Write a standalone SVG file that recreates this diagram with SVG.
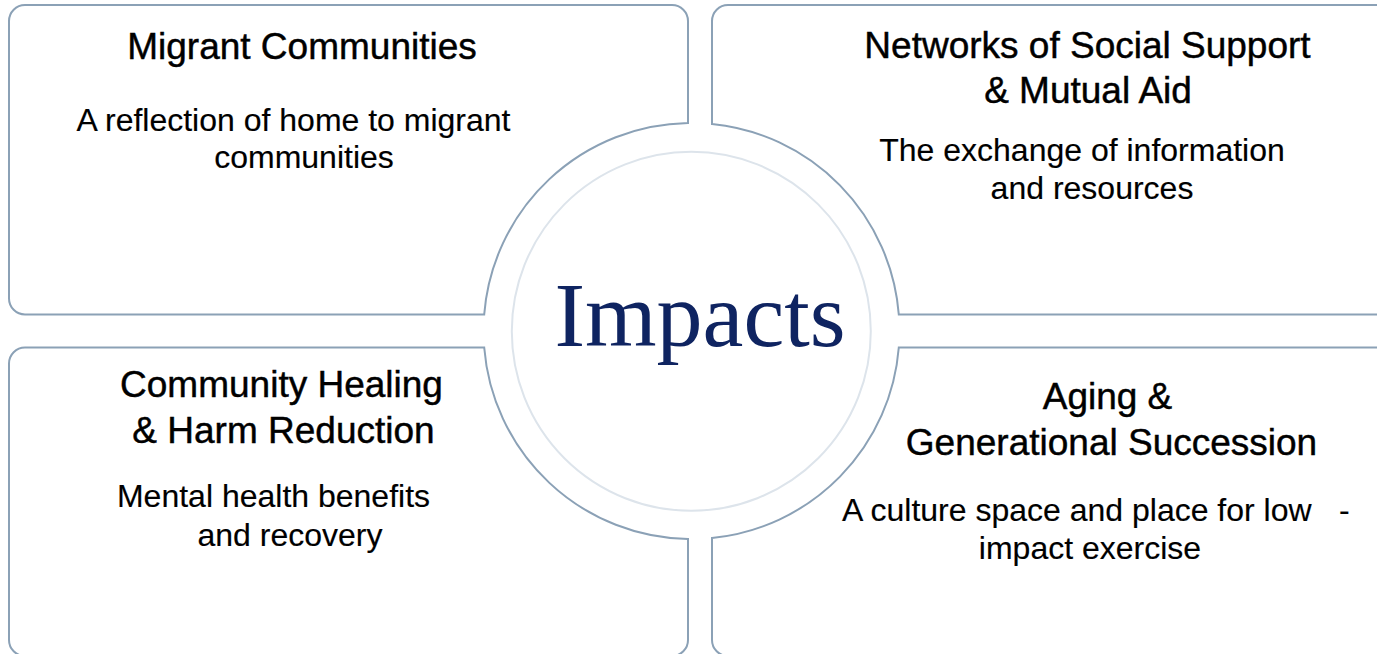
<svg xmlns="http://www.w3.org/2000/svg" width="1377" height="654" viewBox="0 0 1377 654">
  <style>
    .box { fill: #FFFFFF; stroke: #8BA1B6; stroke-width: 2; }
    .ring { fill: none; stroke: #DDE4EB; stroke-width: 2; }
    .title { font-family: "Liberation Sans", Arial, sans-serif; font-size: 37px; fill: #000000; stroke: #000000; stroke-width: 0.45; text-anchor: middle; }
    .body { font-family: "Liberation Sans", Arial, sans-serif; font-size: 32px; fill: #000000; stroke: #000000; stroke-width: 0.15; text-anchor: middle; }
    .center { font-family: "Liberation Serif", "Times New Roman", serif; font-size: 92px; fill: #0F2461; text-anchor: middle; }
  </style>
  <rect width="1377" height="654" fill="#FFFFFF"/>
  <g id="node-migrant">
    <path class="box" d="M25,5 H672 A16,16 0 0 1 688,21 V123 A208,208 0 0 0 484.2,314.5 H25 A16,16 0 0 1 9,298.5 V21 A16,16 0 0 1 25,5 Z"/>
    <text class="title" x="302" y="59">Migrant Communities</text>
    <text class="body" x="293.5" y="131">A reflection of home to migrant</text>
    <text class="body" x="304" y="168">communities</text>
  </g>
  <g id="node-networks">
    <path class="box" d="M728,5 H1400 V314.5 H898.8 A208,208 0 0 0 712,124 V21 A16,16 0 0 1 728,5 Z"/>
    <text class="title" x="1087.5" y="58">Networks of Social Support</text>
    <text class="title" x="1088" y="103">&amp; Mutual Aid</text>
    <text class="body" x="1082" y="161">The exchange of information</text>
    <text class="body" x="1092" y="199">and resources</text>
  </g>
  <g id="node-healing">
    <path class="box" d="M25,347.5 H484.2 A208,208 0 0 0 688,539 V640 A16,16 0 0 1 672,656 H25 A16,16 0 0 1 9,640 V363.5 A16,16 0 0 1 25,347.5 Z"/>
    <text class="title" x="281.5" y="397">Community Healing</text>
    <text class="title" x="283.5" y="443">&amp; Harm Reduction</text>
    <text class="body" x="273.5" y="507">Mental health benefits</text>
    <text class="body" x="290" y="546">and recovery</text>
  </g>
  <g id="node-aging">
    <path class="box" d="M898.8,347.5 H1400 V656 H728 A16,16 0 0 1 712,640 V538 A208,208 0 0 0 898.8,347.5 Z"/>
    <text class="title" x="1107.5" y="409">Aging &amp;</text>
    <text class="title" x="1111.5" y="455">Generational Succession</text>
    <text class="body" x="842" y="521" style="text-anchor:start">A culture space and place for low<tspan x="1339">-</tspan></text>
    <text class="body" x="1090" y="559">impact exercise</text>
  </g>
  <g id="node-impacts">
    <circle class="ring" cx="691.3" cy="331.3" r="179.5"/>
    <text class="center" x="700" y="346">Impacts</text>
  </g>
  <g id="connectors"></g>
</svg>
